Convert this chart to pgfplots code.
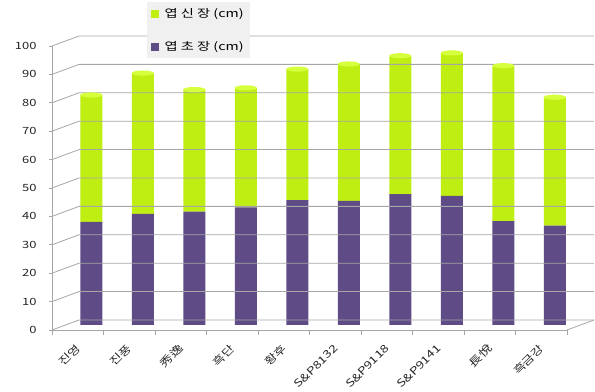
\documentclass[border=0pt]{standalone}
\usepackage{fontspec}
\setmainfont{Noto Sans CJK KR}[FakeStretch=1.3]
\usepackage{pgfplots}
\usepackage{pgfplotstable}
\pgfplotsset{compat=1.18}

\definecolor{bladegreen}{HTML}{BFEE12}
\definecolor{bladelight}{HTML}{D6FF3C}
\definecolor{sheathpurple}{HTML}{5F4B86}
\definecolor{wallgray}{HTML}{A6A6A6}
\definecolor{legendbg}{HTML}{F0F0F0}

% leaf sheath and leaf blade length (cm) per cultivar
\pgfplotstableread{
idx sheath blade
0   36.3   44.7
1   39.1   49.6
2   39.9   43.0
3   41.4   42.1
4   44.0   46.1
5   43.7   48.2
6   46.1   48.7
7   45.5   50.3
8   36.6   54.7
9   35.0   45.2
}\lengthdata

% elliptical cap for the cylinder tops
\pgfdeclareplotmark{cylcap}{%
  \pgfpathellipse{\pgfpointorigin}{\pgfqpoint{11bp}{0bp}}{\pgfqpoint{0bp}{2.6bp}}%
  \pgfusepathqfill}

\begin{document}
\begin{tikzpicture}
\useasboundingbox (0,0) rectangle (595bp,392bp);
\begin{axis}[
  at={(52bp,62bp)}, anchor=south west,
  scale only axis, width=515bp, height=284bp,
  xmin=-0.5, xmax=9.5, ymin=0, ymax=100,
  ybar stacked, bar width=22bp,
  axis x line*=bottom, axis y line*=left,
  axis line style={draw=wallgray, line width=0.8bp},
  ytick={0,10,...,100},
  xtick={0,...,9},
  xticklabels={진영,진풍,秀逸,흑단,황후,S\&P8132,S\&P9118,S\&P9141,長悅,흑금강},
  minor xtick={-0.5,0.5,...,9.5},
  tick align=outside,
  major tick length=3bp, minor tick length=5bp,
  major x tick style={draw=none},
  tick style={draw=wallgray, line width=0.8bp},
  /pgf/number format/assume math mode=true,
  yticklabel style={font=\fontsize{10}{12}\selectfont, text=black!85, xshift=-9bp},
  xticklabel style={font=\fontsize{10.5}{12}\selectfont, text=black!85,
    yshift=-11bp, xshift=3bp, rotate=45, anchor=east},
  legend style={at={(0.1845,1.155)}, anchor=north west, fill=legendbg, draw=none,
    font=\fontsize{11}{12}\selectfont, row sep=19bp, inner sep=4bp,
    legend cell align=left},
  clip=false,
]
% back wall grid and side wall lines
\pgfplotsinvokeforeach{0,10,20,30,40,50,60,70,80,90,100}{
  \draw[wallgray, line width=0.8bp]
    (axis cs:-0.5,#1) -- ([xshift=27bp,yshift=10bp]axis cs:-0.5,#1)
    -- ([xshift=27bp,yshift=10bp]axis cs:9.5,#1);
}
% floor right edge
\draw[wallgray, line width=0.8bp]
  (axis cs:9.5,0) -- ([xshift=27bp,yshift=10bp]axis cs:9.5,0);

\addlegendimage{legend image code/.code={\fill[bladegreen] (1bp,-3.5bp) rectangle (8bp,3.5bp);
  \path (12bp,0bp);}}
\addlegendentry{엽 신 장 (cm)}
\addlegendimage{legend image code/.code={\fill[sheathpurple] (1bp,-3.5bp) rectangle (8bp,3.5bp);
  \path (12bp,0bp);}}
\addlegendentry{엽 초 장 (cm)}

\addplot[forget plot, draw=none, fill=sheathpurple, xshift=13.5bp, yshift=5bp]
  table[x=idx, y=sheath] {\lengthdata};
\addplot[forget plot, draw=none, fill=bladegreen, xshift=13.5bp, yshift=5bp,
  mark=cylcap, mark options={fill=bladelight}]
  table[x=idx, y=blade] {\lengthdata};
\end{axis}
\end{tikzpicture}
\end{document}
